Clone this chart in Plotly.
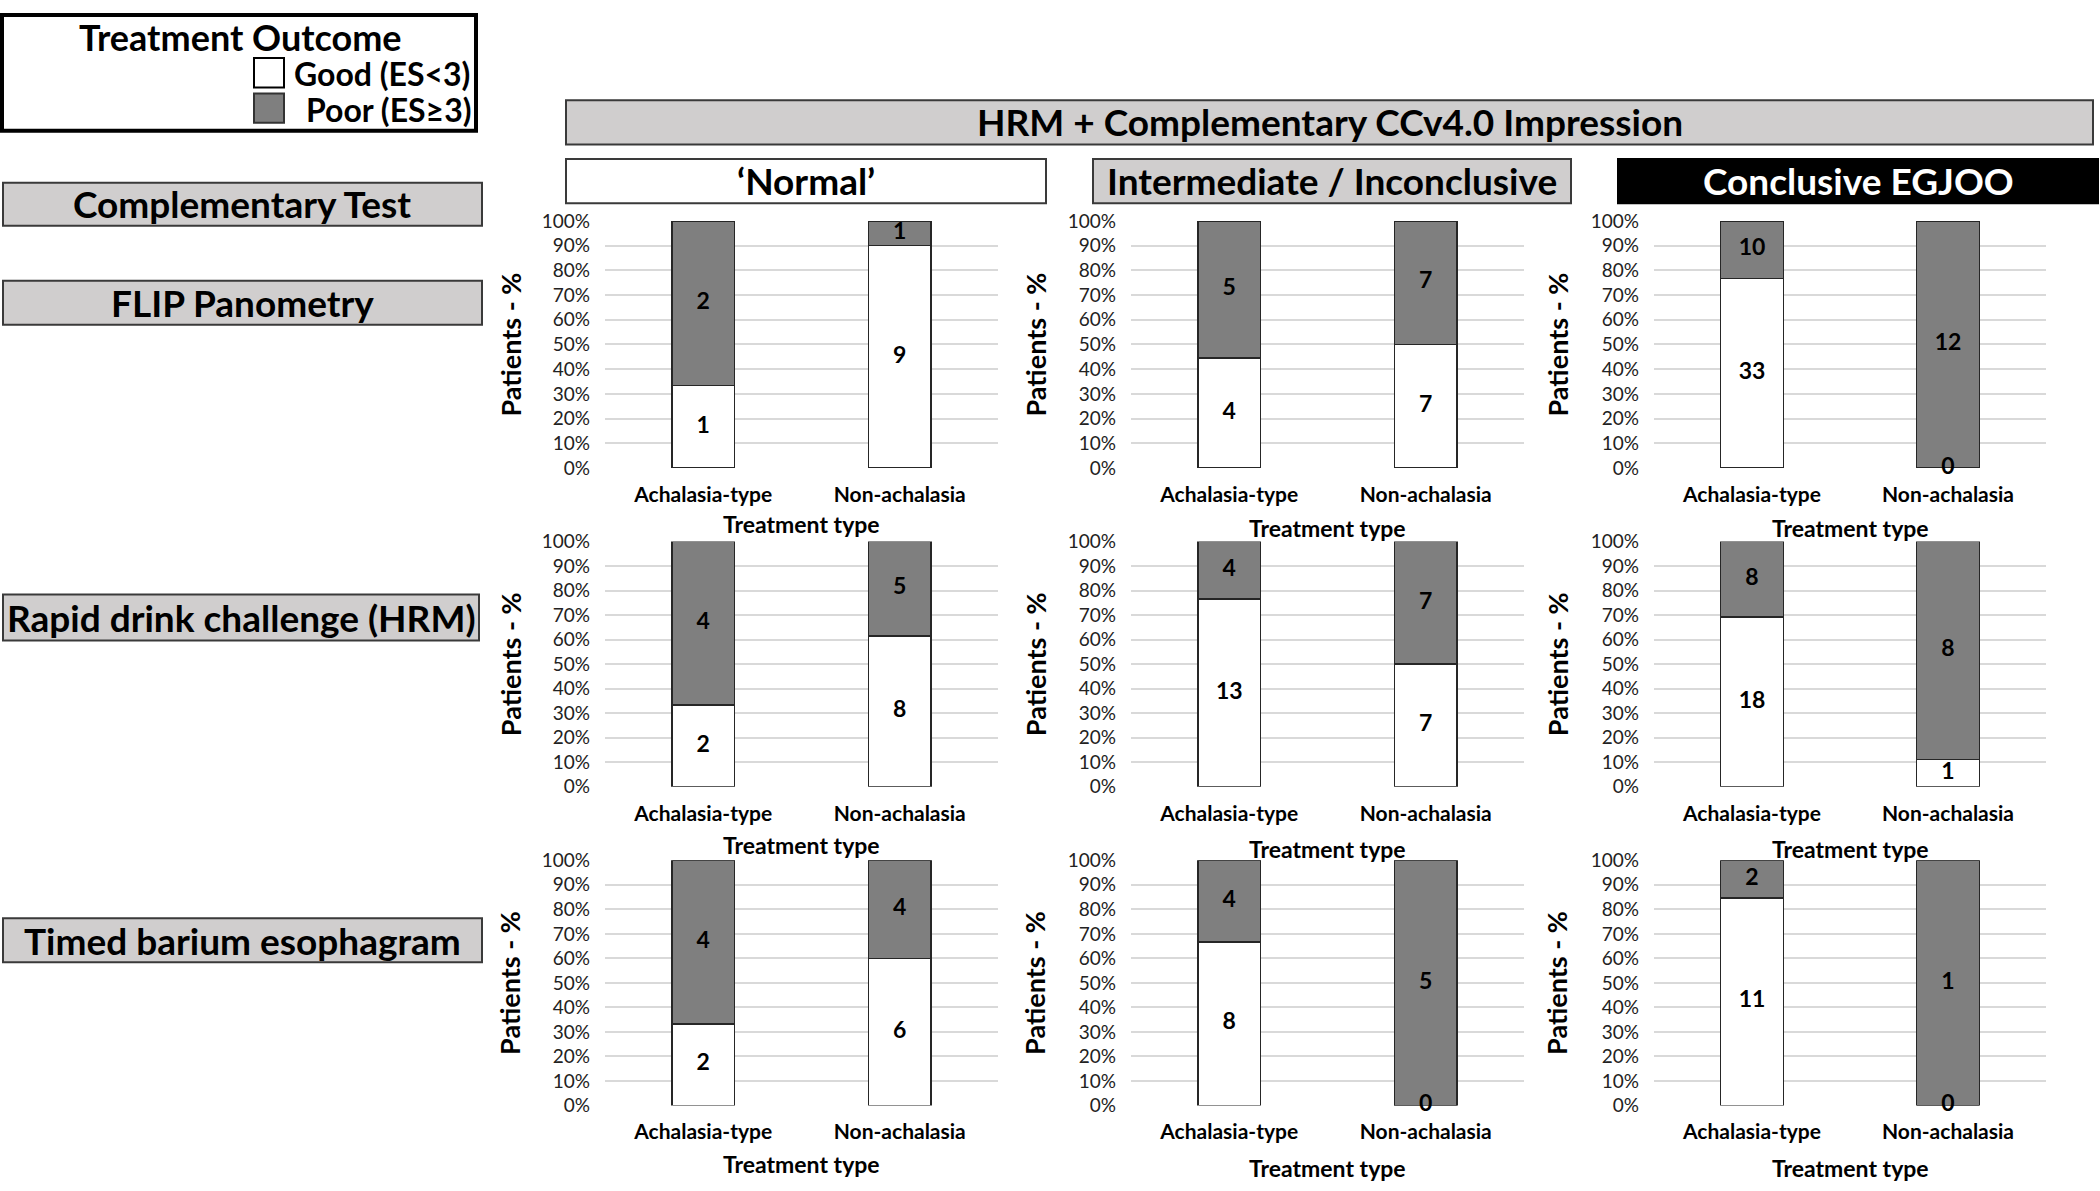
import plotly.graph_objects as go

W, H = 2100, 1191

# ---------------- data ----------------
categories = ["Achalasia-type", "Non-achalasia"]
impressions = ["\u2018Normal\u2019", "Intermediate / Inconclusive", "Conclusive EGJOO"]
tests = ["FLIP Panometry", "Rapid drink challenge (HRM)", "Timed barium esophagram"]

# counts per impression: [Achalasia-type, Non-achalasia]
flip_good = [[1, 9], [4, 7], [33, 0]]
flip_poor = [[2, 1], [5, 7], [10, 12]]
rdc_good = [[2, 8], [13, 7], [18, 1]]
rdc_poor = [[4, 5], [4, 7], [8, 8]]
tbe_good = [[2, 6], [8, 0], [11, 0]]
tbe_poor = [[4, 4], [4, 5], [2, 1]]

good_counts = [flip_good, rdc_good, tbe_good]
poor_counts = [flip_poor, rdc_poor, tbe_poor]

y_ticks = [0, 0.1, 0.2, 0.3, 0.4, 0.5, 0.6, 0.7, 0.8, 0.9, 1.0]

# ---------------- style ----------------
FONT = "Lato"
GOOD_COLOR = "#ffffff"
POOR_COLOR = "#7f7f7f"
EDGE = "#262626"
GRID = "#d9d9d9"
BOX_FILL = "#d0cece"
BOX_EDGE = "#3a3a3a"

# pixel layout (full-size reference)
col_x = [(605, 998), (1131, 1524), (1654, 2046)]
row_y = [(213, 465), (540, 790), (865, 1115)]
ytitle_x = [510, 1035, 1557]
xtitle_y = [[522, 526, 526], [849, 853, 853], [1175, 1179, 1179]]


def px(x):
    return x / W


def py(y):
    return 1 - y / H


fig = go.Figure()
annotations = []
shapes = []

k = 0
for r in range(3):
    for c in range(3):
        k += 1
        ax = "" if k == 1 else str(k)
        xa, ya = "x" + ax, "y" + ax
        g = good_counts[r][c]
        p = poor_counts[r][c]
        tot = [g[i] + p[i] for i in range(2)]
        gp = [g[i] / tot[i] for i in range(2)]
        pp = [p[i] / tot[i] for i in range(2)]
        fig.add_trace(go.Bar(
            x=categories, y=gp, xaxis=xa, yaxis=ya, width=0.32,
            marker=dict(color=GOOD_COLOR, line=dict(color=EDGE, width=1.6)),
            name="Good (ES<3)", showlegend=False, hoverinfo="skip"))
        fig.add_trace(go.Bar(
            x=categories, y=pp, xaxis=xa, yaxis=ya, width=0.32,
            marker=dict(color=POOR_COLOR, line=dict(color=EDGE, width=1.6)),
            name="Poor (ES\u22653)", showlegend=False, hoverinfo="skip"))
        # data labels (centre of each segment)
        fig.add_trace(go.Scatter(
            x=categories + categories,
            y=[gp[i] / 2 for i in range(2)] + [gp[i] + pp[i] / 2 for i in range(2)],
            text=["<b>%d</b>" % v for v in g] + ["<b>%d</b>" % v for v in p],
            mode="text", textposition="middle center",
            textfont=dict(family=FONT, size=23, color="#000000"),
            xaxis=xa, yaxis=ya, showlegend=False, hoverinfo="skip", cliponaxis=False))

        x0, x1 = col_x[c]
        y0, y1 = row_y[r]
        fig.layout["xaxis" + ax] = dict(
            domain=[px(x0), px(x1)], anchor=ya, type="category",
            range=[-0.5, 1.5], showgrid=False, zeroline=False, showline=False,
            ticks="", ticklabelstandoff=12,
            tickfont=dict(family=FONT, size=21, color="#000000", weight="bold"),
            fixedrange=True)
        fig.layout["yaxis" + ax] = dict(
            domain=[py(y1), py(y0)], anchor=xa, range=[0, 1.0001],
            tickvals=y_ticks, tickformat=".0%", showgrid=True, gridcolor=GRID,
            gridwidth=2, zeroline=False, showline=False, ticks="",
            ticklabelstandoff=14,
            tickfont=dict(family=FONT, size=19, color="#222222"),
            fixedrange=True)
        # axis titles
        annotations.append(dict(
            x=px(ytitle_x[c]), y=py((y0 + y1) / 2), xref="paper", yref="paper",
            text="<b>Patients - %</b>", textangle=-90, showarrow=False,
            font=dict(family=FONT, size=27, color="#000000"),
            xanchor="center", yanchor="middle"))
        annotations.append(dict(
            x=px((x0 + x1) / 2), y=py(xtitle_y[r][c]), xref="paper", yref="paper",
            text="<b>Treatment type</b>", showarrow=False,
            font=dict(family=FONT, size=23, color="#000000"),
            xanchor="center", yanchor="middle"))


def box(x0, y0, x1, y1, fill, edge, width=2):
    shapes.append(dict(type="rect", xref="paper", yref="paper",
                       x0=px(x0), x1=px(x1), y0=py(y1), y1=py(y0),
                       fillcolor=fill, line=dict(color=edge, width=width), layer="above"))


def label(x, y, text, size, color="#000000", anchor="center"):
    annotations.append(dict(x=px(x), y=py(y), xref="paper", yref="paper",
                            text=text, showarrow=False, xanchor=anchor, yanchor="middle",
                            font=dict(family=FONT, size=size, color=color)))


# legend box
box(2, 3, 476, 121, "#ffffff", "#000000", 4)
label(240, 25, "<b>Treatment Outcome</b>", 36)
box(254, 47, 284, 77, GOOD_COLOR, "#000000", 2)
box(254, 83, 284, 113, POOR_COLOR, "#333333", 2)
label(292, 63, "<b>Good (ES<3)</b>", 32, anchor="left")
label(304, 99, "<b>Poor (ES\u22653)</b>", 32, anchor="left")

# top header
box(566, 90, 2093, 135, BOX_FILL, BOX_EDGE)
label(1330, 112, "<b>HRM + Complementary CCv4.0 Impression</b>", 37)

header_x = [(566, 1046), (1093, 1571), (1618, 2098)]
header_fill = ["#ffffff", BOX_FILL, "#000000"]
header_txt = ["#000000", "#000000", "#ffffff"]
for i, name in enumerate(impressions):
    x0, x1 = header_x[i]
    box(x0, 150, x1, 195, header_fill[i], BOX_EDGE if i < 2 else "#000000")
    label((x0 + x1) / 2, 172, "<b>" + name + "</b>", 37, header_txt[i])

# left-hand row labels
box(3, 174, 482, 218, BOX_FILL, BOX_EDGE)
label(242, 195, "<b>Complementary Test</b>", 37)
left_y = [(274, 319), (594, 641), (924, 969)]
left_x1 = [482, 479, 482]
for i, name in enumerate(tests):
    y0, y1 = left_y[i]
    box(3, y0, left_x1[i], y1, BOX_FILL, BOX_EDGE)
    label((3 + left_x1[i]) / 2, (y0 + y1) / 2, "<b>" + name + "</b>", 37)

fig.update_layout(
    width=W, height=H, barmode="stack", bargap=0.68,
    margin=dict(l=0, r=0, t=0, b=0),
    paper_bgcolor="#ffffff", plot_bgcolor="#ffffff",
    font=dict(family=FONT, color="#000000"),
    annotations=annotations, shapes=shapes, showlegend=False)

fig.write_html("out.html", post_script="document.body.style.margin='0';",
               config={"displayModeBar": False})
